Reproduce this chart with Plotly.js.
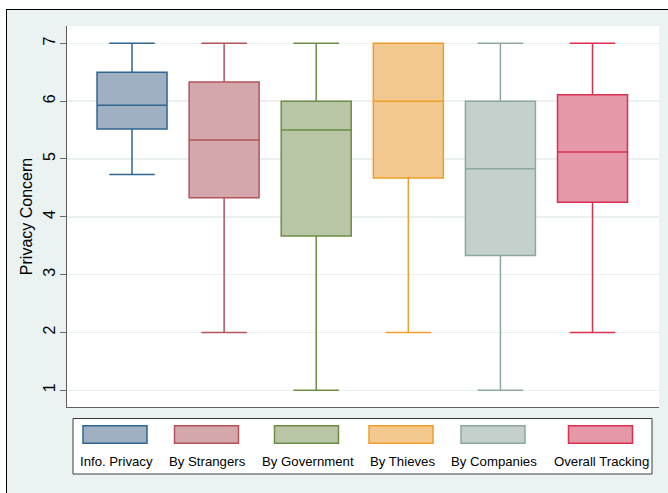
<!DOCTYPE html>
<html>
<head>
<meta charset="utf-8">
<script src="https://cdn.plot.ly/plotly-3.0.1.min.js"></script>
<style>
  html, body { margin: 0; padding: 0; background: #ffffff; width: 668px; height: 493px; overflow: hidden; }
  #frame { position: absolute; left: 6px; top: 9px; width: 662px; height: 484px; box-sizing: border-box;
           background: #eaf2f2; border-top: 1.5px solid #000; border-left: 1px solid #000; }
  #chart { position: absolute; left: 0; top: 0; width: 668px; height: 493px; }
</style>
</head>
<body>
<div id="frame"></div>
<div id="chart"></div>
<script>
// ---- data ----
const categories = ["Info. Privacy", "By Strangers", "By Government", "By Thieves", "By Companies", "Overall Tracking"];
const lowerWhisker = [4.73, 2, 1, 2, 1, 2];
const q1Values     = [5.52, 4.33, 3.67, 4.67, 3.33, 4.25];
const medians      = [5.93, 5.33, 5.5, 6, 4.83, 5.12];
const q3Values     = [6.5, 6.33, 6, 7, 6, 6.11];
const upperWhisker = [7, 7, 7, 7, 7, 7];
const yTicks = [1, 2, 3, 4, 5, 6, 7];

// ---- style ----
const fillColors = ["#9eb0c2", "#d4a7aa", "#b8c6a6", "#f3c98f", "#c3d0cb", "#e498a8"];
const lineColors = ["#2f6591", "#b3545d", "#6c8d43", "#ee9e2b", "#8da89f", "#d8304f"];
const FONT = "'Liberation Sans', Arial, Helvetica, sans-serif";

const traces = categories.map((name, i) => ({
  type: "box",
  name: name,
  x: [i],
  q1: [q1Values[i]],
  median: [medians[i]],
  q3: [q3Values[i]],
  lowerfence: [lowerWhisker[i]],
  upperfence: [upperWhisker[i]],
  width: 0.76,
  whiskerwidth: 0.65,
  fillcolor: fillColors[i],
  line: { color: lineColors[i], width: 1.5 },
  boxpoints: false,
  hoverinfo: "skip",
  showlegend: false
}));

// plot-area pixel geometry (for the hand-drawn Stata-style legend)
const PL = 67, PR = 659, PT = 26, PB = 407;
const px = x => (x - PL) / (PR - PL);
const py = y => (PB - y) / (PB - PT);
const legendCols = [115, 206.5, 306.5, 401, 493, 600.5];

const shapes = [{
  type: "rect", xref: "paper", yref: "paper",
  x0: px(73), x1: px(652), y0: py(474), y1: py(418.5),
  fillcolor: "#ffffff", line: { color: "#3c3c3c", width: 1 }, layer: "above"
}];
const annotations = [];
categories.forEach((name, i) => {
  const cx = legendCols[i];
  shapes.push({
    type: "rect", xref: "paper", yref: "paper",
    x0: px(cx - 32), x1: px(cx + 32), y0: py(443.3), y1: py(425.7),
    fillcolor: fillColors[i], line: { color: lineColors[i], width: 1.5 }, layer: "above"
  });
  annotations.push({
    xref: "paper", yref: "paper", x: px(cx + 1), y: py(461.5),
    xanchor: "center", yanchor: "middle", showarrow: false,
    text: name, font: { family: FONT, size: 13.2, color: "#000" }
  });
});

const layout = {
  width: 668, height: 493,
  margin: { l: PL, r: 668 - PR, t: PT, b: 493 - PB, pad: 0 },
  paper_bgcolor: "rgba(0,0,0,0)",
  plot_bgcolor: "#ffffff",
  font: { family: FONT, size: 16, color: "#000" },
  showlegend: false,
  xaxis: {
    range: [-0.706, 5.722],
    showticklabels: false, ticks: "", showgrid: false, zeroline: false,
    showline: true, linecolor: "#5e5e5e", linewidth: 1.3
  },
  yaxis: {
    range: [0.711, 7.30],
    tickvals: yTicks, ticktext: yTicks.map(String),
    tickangle: -90,
    ticks: "outside", ticklen: 6, tickcolor: "#6a6a6a", tickwidth: 1,
    ticklabelstandoff: -2,
    showgrid: true, gridcolor: "#e9f0f0", gridwidth: 1.5,
    zeroline: false,
    showline: true, linecolor: "#5e5e5e", linewidth: 1.3,
    tickfont: { family: FONT, size: 16, color: "#000" },
    title: { text: "Privacy Concern", font: { family: FONT, size: 16, color: "#000" }, standoff: 4 }
  },
  shapes: shapes,
  annotations: annotations
};

Plotly.newPlot("chart", traces, layout, { staticPlot: true, displayModeBar: false });
</script>
</body>
</html>
